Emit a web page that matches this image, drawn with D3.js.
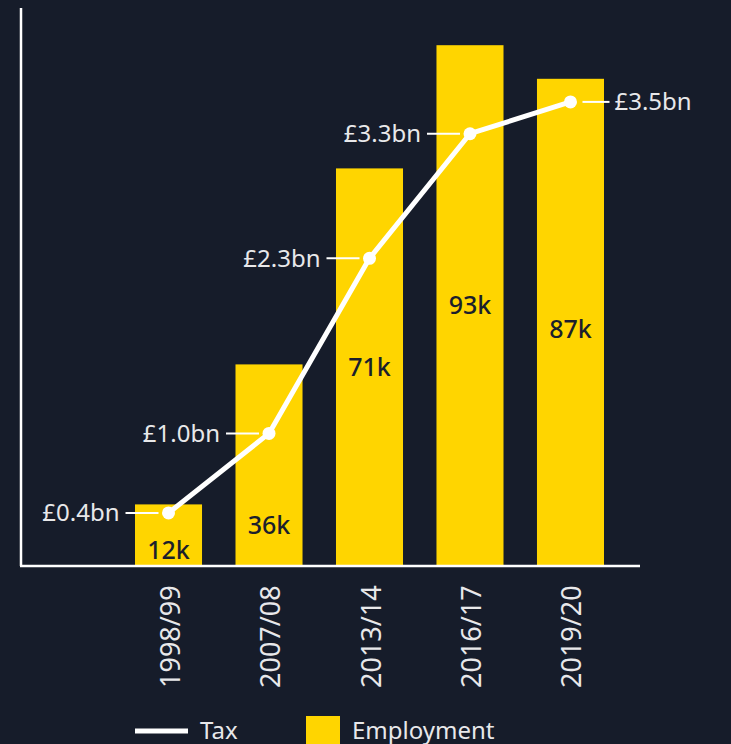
<!DOCTYPE html>
<html><head><meta charset="utf-8">
<script src="https://cdn.jsdelivr.net/npm/d3@7/dist/d3.min.js"></script>
<style>
html,body{margin:0;padding:0;background:#161c2a;}
svg{display:block;}
</style></head>
<body>
<svg id="chart" width="731" height="744"></svg>
<script>
const categories = ["1998/99","2007/08","2013/14","2016/17","2019/20"];
const employment = [11, 36, 71, 93, 87];
const employmentLabels = ["12k","36k","71k","93k","87k"];
const tax = [0.4, 1.0, 2.32, 3.26, 3.5];
const taxLabels = ["£0.4bn","£1.0bn","£2.3bn","£3.3bn","£3.5bn"];

const W = 731, H = 744;
const bg = "#161c2a", yellow = "#ffd500", ink = "#1b1f2c", txt = "#e8e8ea";
const font = "'Noto Sans', sans-serif";
const svg = d3.select("#chart");
svg.append("rect").attr("width",W).attr("height",H).attr("fill",bg);

const x0 = 20, x1 = 640, baseY = 566;
const x = d3.scaleBand().domain(categories).range([135, 604]).paddingInner(0.333).paddingOuter(0);
const yEmp = d3.scaleLinear().domain([0, 100]).range([baseY, 6]);
const yTax = d3.scaleLinear().domain([0, 4]).range([baseY, baseY - 4*132.6]);
const cx = d => x(d) + x.bandwidth()/2;

// bars
svg.selectAll("rect.bar").data(categories).enter().append("rect")
  .attr("class","bar")
  .attr("x", d => x(d))
  .attr("width", x.bandwidth())
  .attr("y", (d,i) => yEmp(employment[i]))
  .attr("height", (d,i) => baseY - yEmp(employment[i]))
  .attr("fill", yellow);

// bar labels (vertical anchor as fraction of bar height from base)
const labelFrac = [0.25, 0.2, 0.5, 0.5, 0.485];
svg.selectAll("text.blab").data(categories).enter().append("text")
  .attr("x", d => cx(d))
  .attr("y", (d,i) => baseY - (baseY - yEmp(employment[i])) * labelFrac[i])
  .attr("dy","0.35em")
  .attr("text-anchor","middle")
  .attr("font-family", font).attr("font-size", 25).attr("font-weight", 500)
  .attr("fill", ink)
  .text((d,i) => employmentLabels[i]);

// axes
svg.append("line").attr("x1", x0+1).attr("x2", x0+1).attr("y1", 8).attr("y2", baseY)
  .attr("stroke","#fff").attr("stroke-width",2.5);
svg.append("line").attr("x1", x0).attr("x2", x1).attr("y1", baseY).attr("y2", baseY)
  .attr("stroke","#fff").attr("stroke-width",2.5);

// x tick labels
svg.selectAll("text.xt").data(categories).enter().append("text")
  .attr("transform", d => `translate(${cx(d)+11},${688}) rotate(-90)`)
  .attr("font-family", font).attr("font-size", 27).attr("fill", txt)
  .text(d => d);

// tax line
const pts = categories.map((c,i) => [cx(c), yTax(tax[i])]);
svg.append("path").attr("d", d3.line()(pts))
  .attr("fill","none").attr("stroke","#fff").attr("stroke-width",5).attr("stroke-linejoin","round");
svg.selectAll("circle.pt").data(pts).enter().append("circle")
  .attr("cx", d => d[0]).attr("cy", d => d[1]).attr("r", 6.5).attr("fill","#fff");

// tax labels with leaders
pts.forEach((p,i) => {
  const right = i === pts.length - 1;
  const g = svg.append("g");
  if (!right) {
    g.append("line").attr("x1", p[0]-43).attr("x2", p[0]-10).attr("y1", p[1]).attr("y2", p[1])
      .attr("stroke","#fff").attr("stroke-width",2);
    g.append("text").attr("x", p[0]-49).attr("y", p[1]).attr("dy","0.35em")
      .attr("text-anchor","end").attr("font-family", font).attr("font-size", 24)
      .attr("fill",txt).text(taxLabels[i]);
  } else {
    g.append("line").attr("x1", p[0]+12).attr("x2", p[0]+39).attr("y1", p[1]).attr("y2", p[1])
      .attr("stroke","#fff").attr("stroke-width",2);
    g.append("text").attr("x", p[0]+44).attr("y", p[1]).attr("dy","0.35em")
      .attr("text-anchor","start").attr("font-family", font).attr("font-size", 24)
      .attr("fill",txt).text(taxLabels[i]);
  }
});

// legend
const ly = 731;
svg.append("line").attr("x1",135).attr("x2",188).attr("y1",ly).attr("y2",ly)
  .attr("stroke","#fff").attr("stroke-width",5);
svg.append("text").attr("x",200).attr("y",ly).attr("dy","0.35em")
  .attr("font-family", font).attr("font-size", 24).attr("fill",txt).text("Tax");
svg.append("rect").attr("x",306).attr("y",716).attr("width",34).attr("height",30).attr("fill",yellow);
svg.append("text").attr("x",352).attr("y",ly).attr("dy","0.35em")
  .attr("font-family", font).attr("font-size", 24).attr("fill",txt).text("Employment");
</script>
</body></html>
